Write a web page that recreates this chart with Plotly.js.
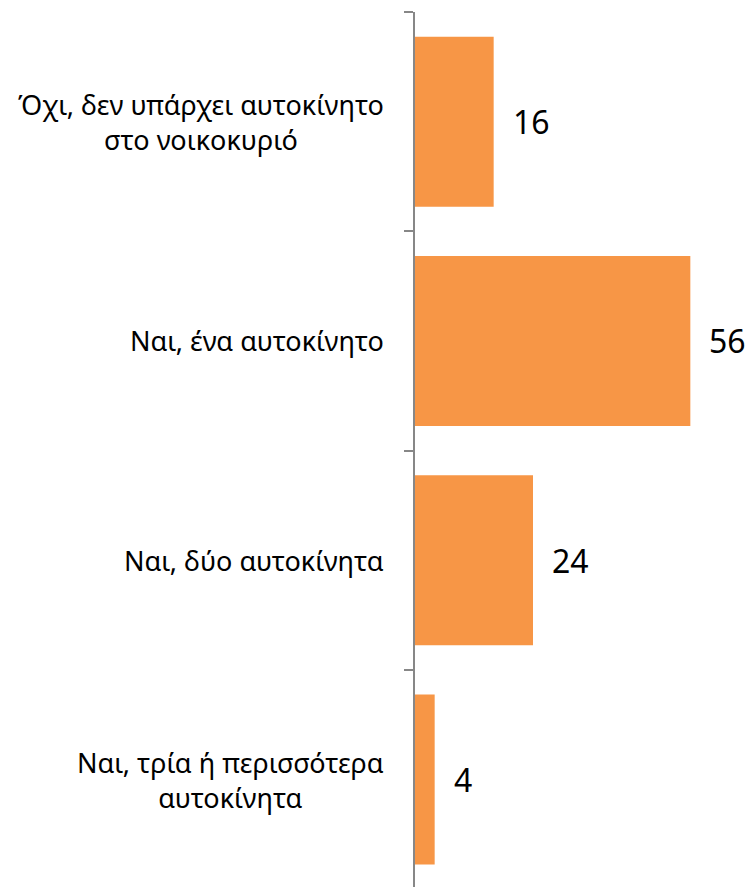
<!DOCTYPE html>
<html>
<head>
<meta charset="utf-8">
<script src="https://cdn.plot.ly/plotly-3.0.1.min.js"></script>
<style>
html,body{margin:0;padding:0;background:#fff;}
#chart{width:748px;height:887px;}
</style>
</head>
<body>
<div id="chart"></div>
<script>
const categories = [
  "Όχι, δεν υπάρχει αυτοκίνητο<br>στο νοικοκυριό",
  "Ναι, ένα αυτοκίνητο",
  "Ναι, δύο αυτοκίνητα",
  "Ναι, τρία ή περισσότερα<br>αυτοκίνητα"
];
const values = [16, 56, 24, 4];

const FONT = "Noto Sans, Open Sans, DejaVu Sans, sans-serif";

const trace = {
  type: "bar",
  orientation: "h",
  x: values,
  y: categories,
  marker: {color: "#F79646"},
  hoverinfo: "x+y"
};

const annotations = [];
categories.forEach((c, i) => {
  annotations.push({
    xref: "paper", yref: "y", x: 0, y: c,
    xanchor: "right", yanchor: "middle", xshift: -29,
    text: c, showarrow: false, align: "center",
    font: {family: FONT, size: 27, color: "#000"}
  });
  annotations.push({
    xref: "x", yref: "y", x: values[i], y: c,
    xanchor: "left", yanchor: "middle", xshift: 17,
    text: String(values[i]), showarrow: false,
    font: {family: FONT, size: 32, color: "#000"}
  });
});

const layout = {
  width: 748, height: 887,
  margin: {l: 415, r: 38, t: 12, b: 0, pad: 0},
  paper_bgcolor: "#fff", plot_bgcolor: "#fff",
  showlegend: false,
  bargap: 0.225,
  xaxis: {range: [0, 60], visible: false, fixedrange: true},
  yaxis: {
    type: "category",
    range: [3.49, -0.5],
    showline: true, linecolor: "#878787", linewidth: 2,
    ticks: "outside", tickson: "boundaries", ticklen: 9, tickwidth: 2, tickcolor: "#878787",
    showticklabels: false, showgrid: false, zeroline: false, fixedrange: true
  },
  annotations: annotations
};

Plotly.newPlot("chart", [trace], layout, {displayModeBar: false, staticPlot: true});
</script>
</body>
</html>
